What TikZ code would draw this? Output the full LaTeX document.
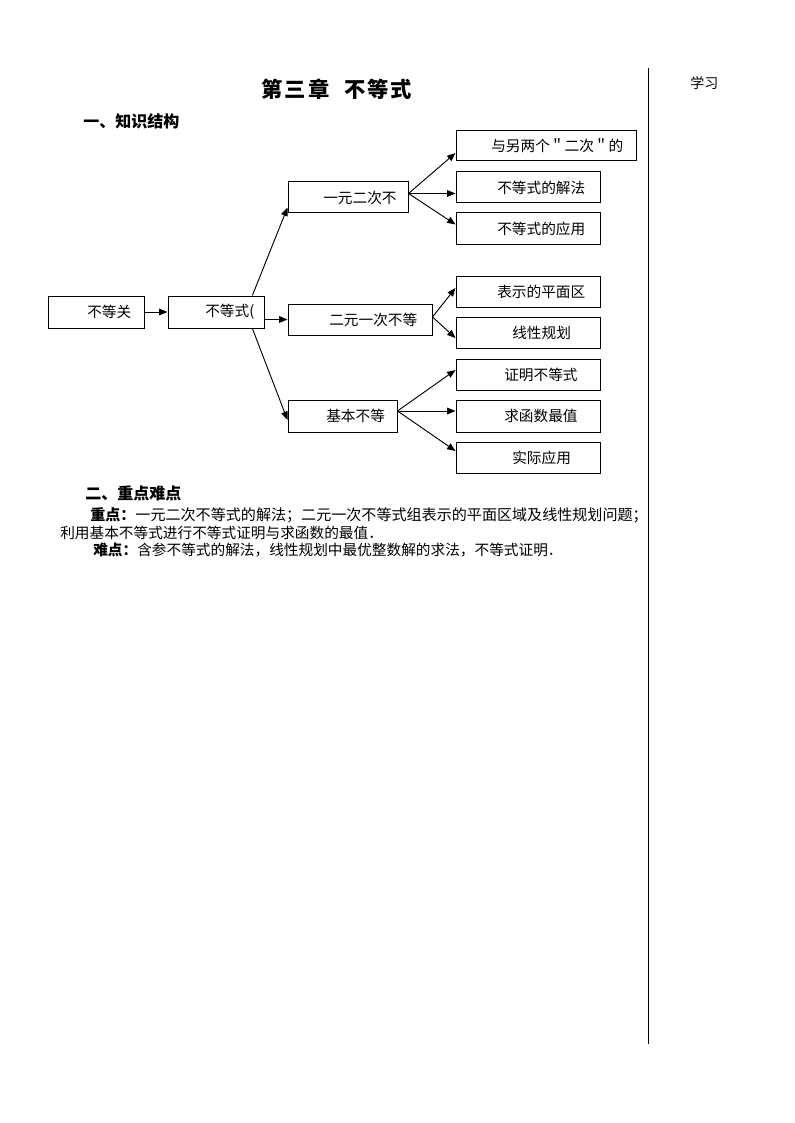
\documentclass[tikz,border=0pt]{standalone}
\usepackage{fontspec}
\setmainfont{Noto Sans CJK SC}
\usetikzlibrary{arrows.meta,calc}
\tikzset{
  boxst/.style={draw, line width=0.75pt, inner sep=0pt, rectangle},
  txt/.style={inner sep=0pt, anchor=west, font=\fontsize{11pt}{13pt}\selectfont},
  arr/.style={line width=0.7pt, -{Triangle[length=6.3pt,width=5pt]}},
  head/.style={inner sep=0pt, anchor=west, font=\fontsize{12pt}{14pt}\selectfont\bfseries},
}
\newcommand\mybox[5]{\node[boxst, minimum width={(#4-#2)*0.75pt}, minimum height={(#5-#3)*0.75pt}] (#1) at ({(#2+#4)/2},{(#3+#5)/2}) {};}
\begin{document}
\begin{tikzpicture}[x=0.75pt,y=-0.75pt]
\useasboundingbox (0,0) rectangle (794,1123);
% title and headings
\node[inner sep=0pt, font=\fontsize{16pt}{18pt}\selectfont\bfseries] (title) at (337,89) {第\kern1.5pt 三\kern1.5pt 章\kern11pt 不\kern1.5pt 等\kern1.5pt 式};
\node[head] (h1) at (83,121) {一、知识结构};
\node[inner sep=0pt, anchor=west, font=\fontsize{10.5pt}{12pt}\selectfont] (side) at (690,83) {学习};
% vertical rule
\coordinate (vtop) at (648.5,68);
\coordinate (vbot) at (648.5,1044);
\draw[line width=1pt] (vtop) -- (vbot);
% left boxes
\mybox{b1}{48}{296}{144}{328}
\mybox{b2}{168}{296}{264}{328}
\mybox{b3}{288}{182}{408}{213}
\mybox{b4}{288}{304}{432}{335}
\mybox{b5}{288}{400}{397}{432}
\node[txt] (t1) at (87,312) {不等关};
\node[txt] (t2) at (205,312) {不等式(};
\node[txt] (t3) at (323,197.5) {一元二次不};
\node[txt] (t4) at (329,319.5) {二元一次不等};
\node[txt] (t5) at (326,416) {基本不等};
% right boxes
\mybox{rb1}{456}{131}{636}{161}
\mybox{rb2}{456}{172}{600}{203}
\mybox{rb3}{456}{213}{600}{244}
\mybox{rb4}{456}{276}{600}{307}
\mybox{rb5}{456}{317}{600}{348}
\mybox{rb6}{456}{359}{600}{390}
\mybox{rb7}{456}{400}{600}{432}
\mybox{rb8}{456}{442}{600}{473}
\node[txt] (rt1) at (491,146) {与另两个＂二次＂的};
\node[txt] (rt2) at (497,187.5) {不等式的解法};
\node[txt] (rt3) at (497,228.5) {不等式的应用};
\node[txt] (rt4) at (497,291.5) {表示的平面区};
\node[txt] (rt5) at (512,332.5) {线性规划};
\node[txt] (rt6) at (504,374.5) {证明不等式};
\node[txt] (rt7) at (504,416) {求函数最值};
\node[txt] (rt8) at (512,457.5) {实际应用};
% connectors
\draw[arr] (b1.east) -- (b2.west);
\draw[arr] (b2.east |- b4.west) -- (b4.west);
\draw[arr] ($(b2.north west)!0.875!(b2.north east)$) -- ($(b3.south west)+(0,-6)$);
\draw[arr] ($(b2.south west)!0.875!(b2.south east)$) -- ($(b5.west)+(0,4)$);
\coordinate (f3) at ($(b3.east)+(0,-4)$);
\draw[arr] (f3) -- ($(rb1.west)+(0,7)$);
\draw[arr] (f3) -- ($(rb2.west)+(0,6)$);
\draw[arr] (f3) -- ($(rb3.west)+(0,-4)$);
\coordinate (f4) at ($(b4.east)+(0,-2.5)$);
\draw[arr] (f4) -- ($(rb4.west)+(0,-3.5)$);
\draw[arr] (f4) -- ($(rb5.west)+(0,5.5)$);
\coordinate (f5) at ($(b5.east)+(0,-5)$);
\draw[arr] (f5) -- ($(rb6.west)+(0,-4.5)$);
\draw[arr] (f5) -- ($(rb7.west)+(0,-5)$);
\draw[arr] (f5) -- ($(rb8.west)+(0,-6.5)$);
% section two
\node[head] (h2) at (85,493) {二、重点难点};
\node[txt, font=\fontsize{11.3pt}{13pt}\selectfont] (l1) at (90,515) {\textbf{重点：}一元二次不等式的解法；二元一次不等式组表示的平面区域及线性规划问题；};
\node[txt] (l2) at (60,533) {利用基本不等式进行不等式证明与求函数的最值．};
\node[txt] (l3) at (93,550) {\textbf{难点：}含参不等式的解法，线性规划中最优整数解的求法，不等式证明．};
\end{tikzpicture}
\end{document}
